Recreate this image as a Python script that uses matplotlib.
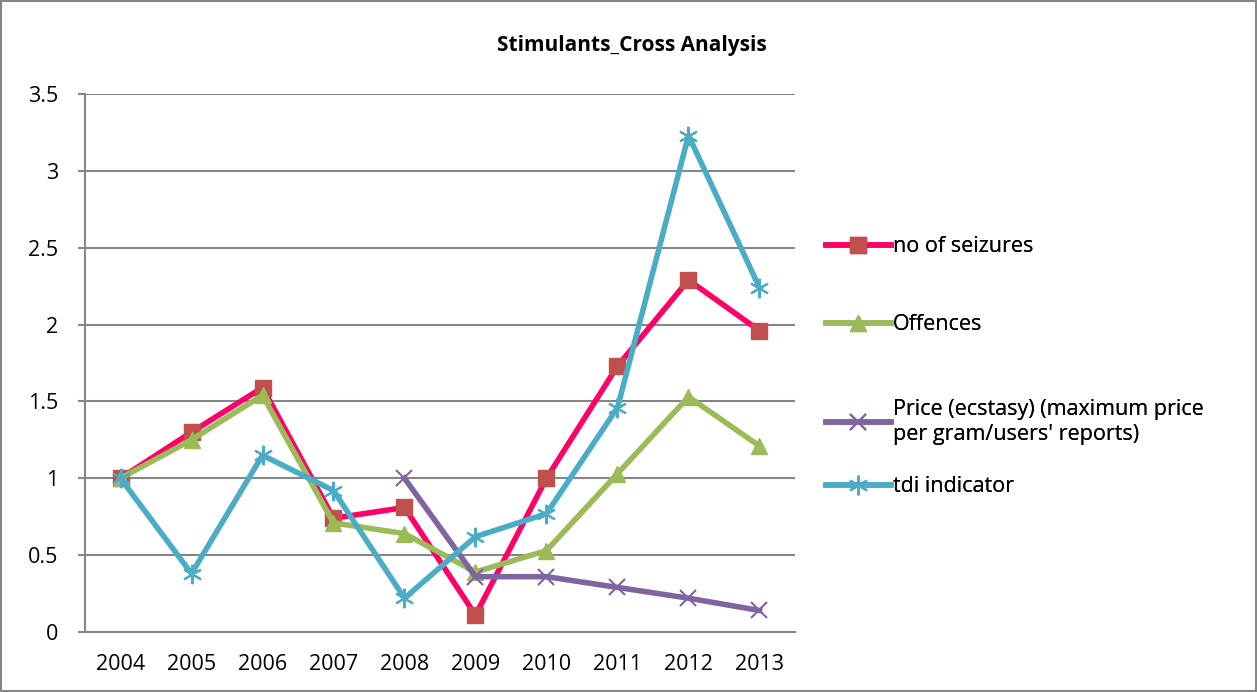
import numpy as np
import matplotlib.pyplot as plt

# dados
anos = ['2004', '2005', '2006', '2007', '2008', '2009', '2010', '2011', '2012', '2013']
apreensoes = [1.0, 1.30, 1.59, 0.74, 0.81, 0.11, 1.0, 1.73, 2.29, 1.96]
ofensas = [1.0, 1.25, 1.54, 0.71, 0.64, 0.39, 0.53, 1.03, 1.53, 1.21]
preco = [np.nan, np.nan, np.nan, np.nan, 1.0, 0.36, 0.36, 0.29, 0.22, 0.14]
tdi = [1.0, 0.38, 1.15, 0.92, 0.22, 0.62, 0.77, 1.46, 3.23, 2.24]

plt.rcParams['font.family'] = ['Open Sans', 'DejaVu Sans']

fig = plt.figure(figsize=(12.57, 6.92), dpi=100)
ax = fig.add_axes([85 / 1257, 1 - 632 / 692, (795 - 85) / 1257, (632 - 94) / 692])

x = np.arange(len(anos))
lw = 4
linhas = []
linhas += ax.plot(x, apreensoes, color='#FF0066', lw=lw, marker='s', markersize=12,
                  markerfacecolor='#C0504D', markeredgecolor='#C0504D', label='no of seizures', zorder=3)
linhas += ax.plot(x, ofensas, color='#9BBB59', lw=lw, marker='^', markersize=12,
                  markerfacecolor='#9BBB59', markeredgecolor='#9BBB59', label='Offences', zorder=3)
linhas += ax.plot(x, preco, color='#8064A2', lw=lw, marker='x', markersize=12, markeredgewidth=1.5,
                  label="Price (ecstasy) (maximum price\nper gram/users' reports)", zorder=3)
linhas += ax.plot(x, tdi, color='#4BACC6', lw=lw, marker=(6, 2, 0), markersize=14, markeredgewidth=1.5,
                  label='tdi indicator', zorder=3)

ax.set_xlim(-0.5, len(anos) - 0.5)
ax.set_ylim(0, 3.5)
ax.set_xticks(x)
ax.set_xticklabels(anos)
ax.set_yticks(np.arange(0, 3.51, 0.5))
ax.set_yticklabels(['0', '0.5', '1', '1.5', '2', '2.5', '3', '3.5'])
ax.tick_params(axis='both', labelsize=15.5, colors='#868686', labelcolor='black')
ax.tick_params(axis='x', length=0, pad=16)
ax.tick_params(axis='y', length=5, width=1.5, pad=14)
ax.grid(axis='y', color='#868686', lw=1.5)
ax.set_axisbelow(True)
for s in ['top', 'right']:
    ax.spines[s].set_visible(False)
for s in ['left', 'bottom']:
    ax.spines[s].set_color('#868686')
    ax.spines[s].set_linewidth(1.5)

fig.text(632 / 1257, 1 - 46 / 692, 'Stimulants_Cross Analysis', ha='center', va='center',
         fontsize=15, fontweight='bold')

# uma legenda para cada serie, como no Excel
posicoes_y = [247, 325, 422, 487]
for linha, py in zip(linhas, posicoes_y):
    leg = fig.legend([linha], [linha.get_label()], loc='center left',
                     bbox_to_anchor=(826 / 1257, 1 - py / 692), frameon=False,
                     fontsize=15.5, handlelength=3.0, handletextpad=0.1,
                     borderaxespad=0, borderpad=0)
    fig.add_artist(leg)

# borda do grafico
fig.patches.append(plt.Rectangle((0.001, 0.001), 0.998, 0.998, transform=fig.transFigure,
                                 fill=False, edgecolor='#868686', lw=1.5))

plt.savefig('out.png', dpi=100)
